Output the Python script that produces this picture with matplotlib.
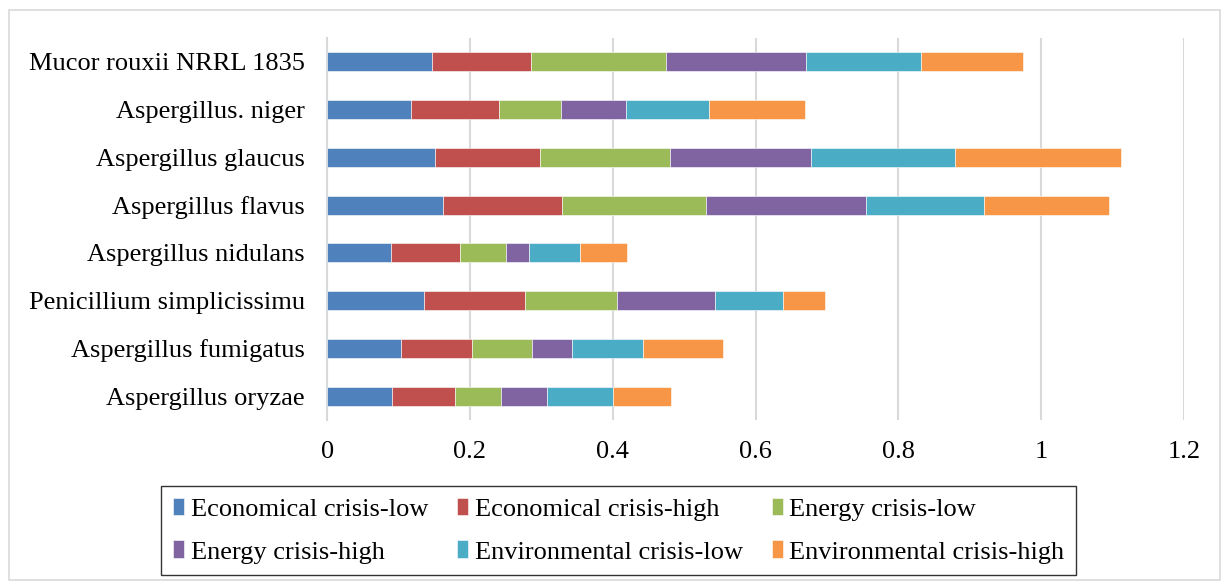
import matplotlib.pyplot as plt
from matplotlib.patches import Rectangle

plt.rcParams["font.family"] = ["Liberation Serif", "DejaVu Serif"]

# strains, listed bottom to top
strains = [
    "Aspergillus oryzae",
    "Aspergillus fumigatus",
    "Penicillium simplicissimu",
    "Aspergillus nidulans",
    "Aspergillus flavus",
    "Aspergillus glaucus",
    "Aspergillus. niger",
    "Mucor rouxii NRRL 1835",
]

econ_low = [0.091, 0.104, 0.136, 0.090, 0.163, 0.151, 0.117, 0.147]
econ_high = [0.088, 0.099, 0.141, 0.096, 0.166, 0.147, 0.124, 0.138]
energy_low = [0.065, 0.084, 0.129, 0.065, 0.201, 0.182, 0.086, 0.190]
energy_high = [0.064, 0.056, 0.137, 0.032, 0.224, 0.197, 0.092, 0.196]
env_low = [0.093, 0.099, 0.095, 0.071, 0.166, 0.202, 0.116, 0.161]
env_high = [0.080, 0.113, 0.059, 0.066, 0.175, 0.232, 0.134, 0.143]

series_names = [
    "Economical crisis-low",
    "Economical crisis-high",
    "Energy crisis-low",
    "Energy crisis-high",
    "Environmental crisis-low",
    "Environmental crisis-high",
]
colors = ["#4F81BD", "#C0504D", "#9BBB59", "#8064A2", "#4BACC6", "#F79646"]

fig = plt.figure(figsize=(12.25, 5.83), dpi=100)
fig.patches.append(Rectangle((0.007, 0.005), 0.989, 0.978, transform=fig.transFigure,
                             fill=False, edgecolor="#d9d9d9", linewidth=1.2))
ax = fig.add_axes([0.267, 0.2796, 0.6996, 0.6552])

left = [0.0] * len(strains)
handles = []
for name, vals, c in zip(series_names, [econ_low, econ_high, energy_low, energy_high, env_low, env_high], colors):
    h = ax.barh(range(len(strains)), vals, left=left, height=0.4, color=c,
                edgecolor="white", linewidth=0.4, label=name, zorder=3)
    handles.append(h)
    left = [a + b for a, b in zip(left, vals)]

ax.set_xlim(0, 1.2)
ax.set_ylim(-0.5, len(strains) - 0.5)
ax.set_xticks([0, 0.2, 0.4, 0.6, 0.8, 1, 1.2])
ax.set_xticklabels(["0", "0.2", "0.4", "0.6", "0.8", "1", "1.2"])
ax.set_yticks(range(len(strains)))
ax.set_yticklabels(strains)
ax.tick_params(axis="both", length=0, labelsize=19)
ax.tick_params(axis="x", pad=15)
ax.tick_params(axis="y", pad=16)
ax.grid(axis="x", color="#d9d9d9", linewidth=1.5, zorder=0)
for s in ["top", "right", "bottom"]:
    ax.spines[s].set_visible(False)
ax.spines["left"].set_color("#d9d9d9")
ax.spines["left"].set_linewidth(1.5)

# matplotlib fills legend columns first, so reorder to read across rows
order = [0, 3, 1, 4, 2, 5]
leg = fig.legend([handles[i] for i in order], [series_names[i] for i in order],
                 ncol=3, loc="center", bbox_to_anchor=(0.505, 0.090),
                 fontsize=19, frameon=True, fancybox=False, edgecolor="black",
                 handlelength=0.42, handleheight=0.65, handletextpad=0.25,
                 columnspacing=1.1, labelspacing=0.75, borderpad=0.45)
leg.get_frame().set_linewidth(1.0)

fig.savefig("out.png", dpi=100)
